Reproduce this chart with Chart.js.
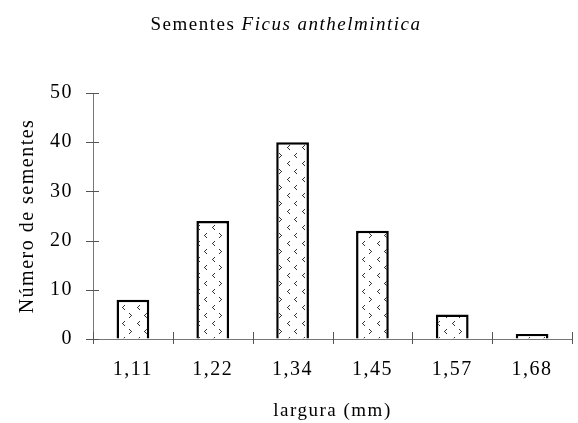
<!DOCTYPE html>
<html lang="pt">
<head>
    <meta charset="UTF-8">
    <title>Sementes Ficus anthelmintica</title>
    <script src="https://cdn.jsdelivr.net/npm/chart.js"></script>
    <style>
        body { margin: 0; background: white; }
        #wrap { width: 578px; height: 423px; }
    </style>
</head>
<body>
    <div id="wrap"><canvas id="chart" width="578" height="423"></canvas></div>

    <script>
        const categories = ['1,11', '1,22', '1,34', '1,45', '1,57', '1,68'];
        const seeds = [8, 24, 40, 22, 5, 1];
        const yTicks = [0, 10, 20, 30, 40, 50];

        const FONT = '"Liberation Serif", "Times New Roman", serif';
        const SPACING = '1.5px';

        // dotted tile with < and > marks, like the original fill
        function makePattern() {
            const c = document.createElement('canvas');
            c.width = 30;
            c.height = 16;
            const g = c.getContext('2d');
            g.fillStyle = 'white';
            g.fillRect(0, 0, 30, 16);
            g.fillStyle = '#333';
            function lt(x, y) {
                g.fillRect(x + 2, y, 1, 1); g.fillRect(x + 1, y + 1, 1, 1);
                g.fillRect(x, y + 2, 1, 1); g.fillRect(x + 1, y + 3, 1, 1); g.fillRect(x + 2, y + 4, 1, 1);
            }
            function gt(x, y) {
                g.fillRect(x, y, 1, 1); g.fillRect(x + 1, y + 1, 1, 1);
                g.fillRect(x + 2, y + 2, 1, 1); g.fillRect(x + 1, y + 3, 1, 1); g.fillRect(x, y + 4, 1, 1);
            }
            lt(2, 1); lt(17, 1);
            gt(9, 9); lt(24, 9);
            return g.createPattern(c, 'repeat');
        }

        const spacingPlugin = {
            id: 'spacing',
            beforeDraw(chart) { chart.ctx.letterSpacing = SPACING; }
        };

        const titlePlugin = {
            id: 'mixedTitle',
            afterDraw(chart) {
                const ctx = chart.ctx;
                const a = 'Sementes ';
                const b = 'Ficus anthelmintica';
                ctx.save();
                ctx.letterSpacing = SPACING;
                ctx.fillStyle = 'black';
                ctx.textBaseline = 'middle';
                ctx.font = '19px ' + FONT;
                const wa = ctx.measureText(a).width;
                ctx.font = 'italic 19px ' + FONT;
                const wb = ctx.measureText(b).width;
                const x0 = 286 - (wa + wb) / 2;
                ctx.font = '19px ' + FONT;
                ctx.fillText(a, x0, 25);
                ctx.font = 'italic 19px ' + FONT;
                ctx.fillText(b, x0 + wa, 25);
                ctx.restore();
            }
        };

        // tick marks that cross the axis lines
        const crossTicks = {
            id: 'crossTicks',
            afterDraw(chart) {
                const ctx = chart.ctx;
                const x = chart.scales.x;
                const y = chart.scales.y;
                ctx.save();
                ctx.strokeStyle = '#555';
                ctx.lineWidth = 1;
                ctx.beginPath();
                yTicks.forEach(v => {
                    const py = Math.round(y.getPixelForValue(v)) + 0.5;
                    ctx.moveTo(y.right - 7, py);
                    ctx.lineTo(y.right + 6, py);
                });
                const step = (x.right - x.left) / categories.length;
                for (let i = 0; i <= categories.length; i++) {
                    const px = Math.round(x.left + i * step) + 0.5;
                    ctx.moveTo(px, x.top - 7);
                    ctx.lineTo(px, x.top + 5);
                }
                ctx.stroke();
                ctx.restore();
            }
        };

        const ctx = document.getElementById('chart').getContext('2d');
        new Chart(ctx, {
            type: 'bar',
            data: {
                labels: categories,
                datasets: [{
                    data: seeds,
                    backgroundColor: makePattern(),
                    borderColor: 'black',
                    borderWidth: 2.5,
                    categoryPercentage: 1,
                    barPercentage: 0.41
                }]
            },
            options: {
                responsive: false,
                animation: false,
                layout: { padding: { top: 93, right: 6, left: 0, bottom: 0 } },
                plugins: {
                    legend: { display: false },
                    tooltip: { enabled: false }
                },
                scales: {
                    x: {
                        grid: { display: true, drawOnChartArea: false, drawTicks: false },
                        border: { color: '#777', width: 1 },
                        ticks: { color: 'black', padding: 19, font: { family: FONT, size: 20 } },
                        title: { display: true, text: 'largura (mm)', color: 'black', padding: { top: 0, bottom: 1 }, font: { family: FONT, size: 19 } },
                        afterFit(scale) { scale.height = 84; }
                    },
                    y: {
                        min: 0,
                        max: 50,
                        afterBuildTicks(scale) { scale.ticks = yTicks.map(v => ({ value: v })); },
                        grid: { display: true, drawOnChartArea: false, drawTicks: false },
                        border: { color: '#777', width: 1 },
                        ticks: { color: 'black', padding: 20, font: { family: FONT, size: 20 } },
                        title: { display: true, text: 'Número de sementes', color: 'black', padding: { top: 16, bottom: 0 }, font: { family: FONT, size: 20 } },
                        afterFit(scale) { scale.width = 93; }
                    }
                }
            },
            plugins: [spacingPlugin, titlePlugin, crossTicks]
        });
    </script>
</body>
</html>
